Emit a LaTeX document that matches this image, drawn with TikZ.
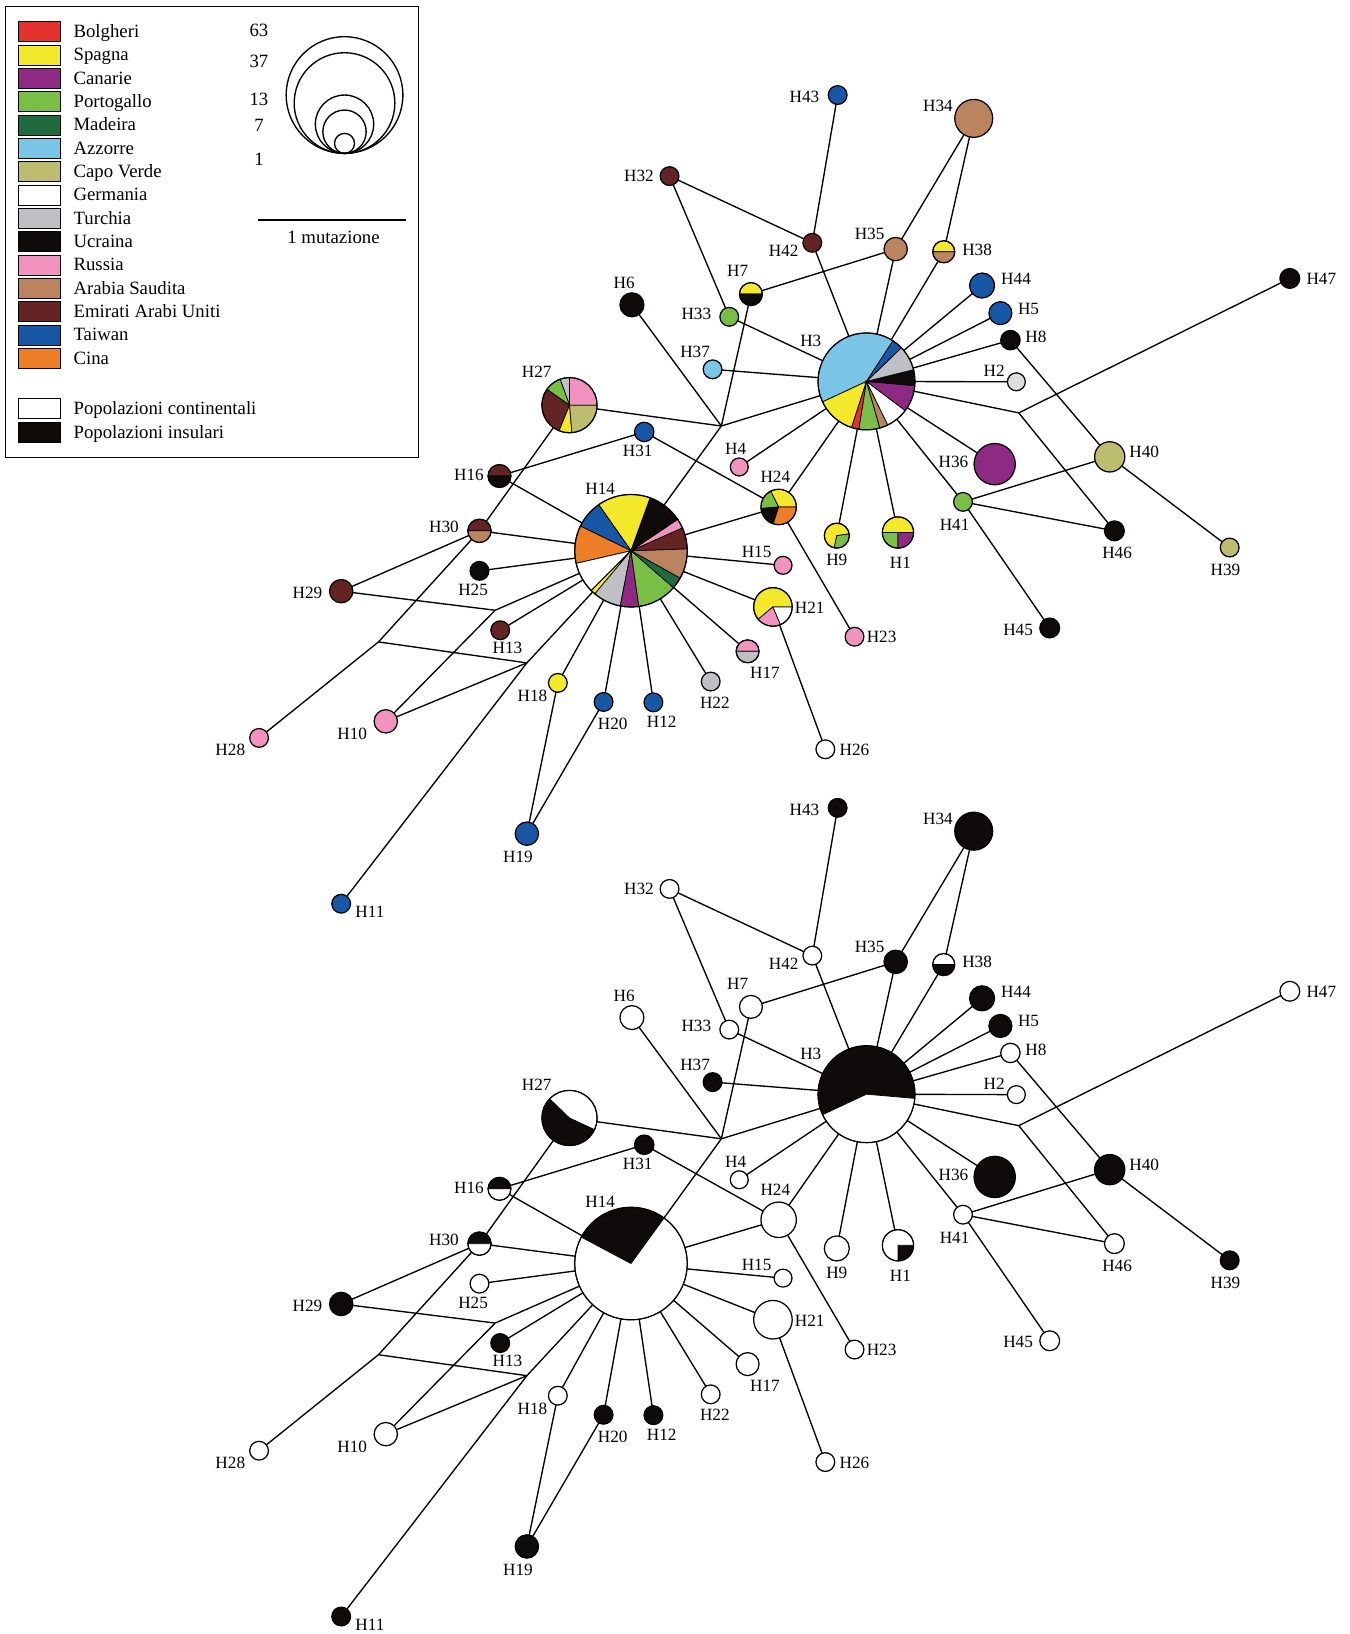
\documentclass[tikz,border=0pt]{standalone}
\usepackage{fontspec}
\setmainfont{Liberation Serif}
\pgfdeclarelayer{back}
\pgfdeclarelayer{bg}
\pgfsetlayers{back,bg,main}
\definecolor{cBol}{HTML}{E5312E}
\definecolor{cSpa}{HTML}{F4E82A}
\definecolor{cCan}{HTML}{8E2A84}
\definecolor{cPor}{HTML}{79BF45}
\definecolor{cMad}{HTML}{1F6B3E}
\definecolor{cAzz}{HTML}{7AC4E6}
\definecolor{cCap}{HTML}{BDBD70}
\definecolor{cTur}{HTML}{BFC0C3}
\definecolor{cUcr}{HTML}{100B0B}
\definecolor{cRus}{HTML}{F192BF}
\definecolor{cAra}{HTML}{BC835F}
\definecolor{cEmi}{HTML}{652424}
\definecolor{cTai}{HTML}{1757A6}
\definecolor{cCin}{HTML}{EE7D28}
\definecolor{cLgr}{HTML}{DEDEDE}
\tikzset{
 hap/.style={circle,draw=black,line width=1.2pt,inner sep=0pt,outer sep=0pt},
 con/.style={line width=1.3pt},
 lab/.style={inner sep=0pt,font=\fontsize{16.5}{18}\selectfont},
 leg/.style={inner sep=0pt,anchor=base west,font=\fontsize{18}{20}\selectfont},
 sw/.style={draw=black,line width=0.8pt,minimum width=40.7pt,minimum height=19.2pt,inner sep=0pt,outer sep=0pt},
}
\newcommand\hn[6]{\node[hap,minimum size={2*#5pt},fill=#6] (#1#2) at (#3,#4) {};}
\newcommand\hp[5]{\node[hap,minimum size={2*#5pt}] (#1#2) at (#3,#4) {};}
\newcommand\pslice[6]{\filldraw[fill=#6,draw=black,line width=0.7pt] (#1,#2) -- ++(#4:#3pt) arc[start angle=#4,end angle=#5,radius=#3pt] -- cycle;}
\newcommand\pie[4]{\foreach \pa/\pb/\pc in {#4}{\pslice{#1}{#2}{#3}{\pa}{\pb}{\pc}}}
\newcommand\netjunc[1]{%
 \coordinate (#1J1) at (692.2,408.8);
 \coordinate (#1J2) at (977.6,396.2);
 \coordinate (#1J3) at (363.2,616);
 \coordinate (#1J4) at (505.6,636.1);
 \coordinate (#1J5) at (475.2,585.6);}
\newcommand\netedges[1]{%
 \begin{pgfonlayer}{bg}
 \foreach \ea/\eb in {H43/H42,H32/H42,H42/H3,H32/H33,H33/H3,H7/H35,H35/H34,H35/H3,H34/H38,H38/H3,
  H7/J1,J1/H14,H6/J1,H27/J1,J1/H3,H37/H3,H44/H3,H5/H3,H8/H3,H8/H40,H2/H3,H3/J2,H47/J2,J2/H46,
  H36/H3,H41/H3,H41/H40,H41/H46,H41/H45,H40/H39,H24/H3,H4/H3,H9/H3,H1/H3,H31/H24,H24/H14,H24/H23,
  H27/H30,H31/H16,H16/H14,H30/H14,H30/H29,H30/J3,J3/H28,J3/J4,J4/H10,H11/J4,J4/H14,H29/J5,J5/H14,
  J5/H10,H25/H14,H13/H14,H18/H14,H18/H19,H20/H19,H20/H14,H12/H14,H22/H14,H17/H14,H15/H14,H21/H14,H21/H26}
  {\draw[con] (#1\ea) -- (#1\eb);}
 \end{pgfonlayer}}
\newcommand\netlabels[1]{%
 \foreach \lx/\ly/\lt in {772/92.8/H43,900/101.8/H34,613.2/169/H32,752/241/H42,834.5/224.6/H35,
  937.6/239.3/H38,707.8/260.2/H7,975/268/H44,599/271.4/H6,668.2/300.8/H33,987/296/H5,1268/268/H47,
  994/323/H8,667/338/H37,778/327/H3,954/356/H2,515/357/H27,612/433/H31,915/443/H36,1098/434/H40,
  706/431/H4,450/456/H16,744/458/H24,916/504/H41,576/469/H14,803/537/H9,864/540/H1,426/506/H30,
  1072/531/H46,1176/547/H39,726/530/H15,454/566/H25,295/569/H29,777/583/H21,487/622/H13,977/604/H45,
  846/611/H23,734/646/H17,686/674/H22,511/668/H18,588/695/H20,635/693/H12,338/704/H10,221/720/H28,
  820/720/H26,497/822/H19,355/875/H11}
  {\node[lab] (#1l\lt) at (\lx,\ly) {\lt};}}
\begin{document}
\begin{tikzpicture}[x=1pt,y=-1pt]
\useasboundingbox (0,0) rectangle (1295,1568);
\begin{pgfonlayer}{back}
\fill[white] (0,0) rectangle (1295,1568);
\end{pgfonlayer}
% ---------------- legend
\node[draw=black,line width=0.9pt,anchor=north west,minimum width=396.7pt,minimum height=432.6pt,inner sep=0pt] (legbox) at (4.8,5.8) {};
\foreach \i/\col/\txt in {0/cBol/Bolgheri,1/cSpa/Spagna,2/cCan/Canarie,3/cPor/Portogallo,4/cMad/Madeira,
 5/cAzz/Azzorre,6/cCap/Capo Verde,7/white/Germania,8/cTur/Turchia,9/cUcr/Ucraina,10/cRus/Russia,
 11/cAra/Arabia Saudita,12/cEmi/Emirati Arabi Uniti,13/cTai/Taiwan,14/cCin/Cina}
{\node[sw,fill=\col] (sw\i) at (38,30.4+22.4*\i) {};
 \node[leg] (lt\i) at (70.4,35.9+22.4*\i) {\txt};}
\node[sw,fill=white] (swc) at (38,392) {};
\node[leg] (ltc) at (70.4,397.5) {Popolazioni continentali};
\node[sw,fill=cUcr] (swi) at (38,415) {};
\node[leg] (lti) at (70.4,420.5) {Popolazioni insulari};
\foreach \v/\yy in {63/28.8,37/58.6,13/95.4,7/120,1/152.6}
 {\node[inner sep=0pt,font=\fontsize{18}{20}\selectfont] (n\v) at (248.5,\yy) {\v};}
\foreach \rr in {56,48.3,28,20.8,9.6}
 {\draw[line width=1.3pt] (330.6,147.2-\rr) circle[radius=\rr pt];}
\coordinate (sb1) at (248,211.2);
\coordinate (sb2) at (389.8,211.2);
\draw[line width=1.3pt] (sb1) -- (sb2);
\node[inner sep=0pt,font=\fontsize{18}{20}\selectfont] (sbl) at (320,227.8) {1 mutazione};
% ---------------- top network
\netjunc{t}
\pie{831.5}{366}{46.5}{57/205/cAzz,205/252/cSpa,252/261/cBol,261/286/cPor,286/296/cAra,296/323/white,323/355/cCan,355/374/cUcr,374/404/cTur,404/417/cTai}
\hp{t}{H3}{831.5}{366}{46.5}
\pie{605.5}{528.5}{54}{70/125/cSpa,125/154/cTai,154/193/cCin,193/225/white,225/230/cSpa,230/259/cTur,259/278/cCan,278/319/cPor,319/331/cMad,331/362/cAra,362/384/cEmi,384/394/cRus,394/430/cUcr}
\hp{t}{H14}{605.5}{528.5}{54}
\pie{546.5}{388.8}{26.5}{0/90/cRus,90/110/cTur,110/145/cPor,145/248/cEmi,248/275/cSpa,275/360/cCap}
\hp{t}{H27}{546.5}{388.8}{26.5}
\pie{747.2}{486.5}{17}{0/117/cSpa,117/185/cPor,185/252/cUcr,252/360/cCin}
\hp{t}{H24}{747.2}{486.5}{17}
\pie{803}{514}{12}{8/258/cSpa,258/368/cPor}
\hp{t}{H9}{803}{514}{12}
\pie{861.7}{511}{15}{0/180/cSpa,180/270/cPor,270/360/cCan}
\hp{t}{H1}{861.7}{511}{15}
\pie{741.7}{582.4}{18.5}{0/220/cSpa,220/293/cRus,293/360/white}
\hp{t}{H21}{741.7}{582.4}{18.5}
\pie{905.6}{241.6}{10.6}{0/180/cSpa,180/360/cAra}
\hp{t}{H38}{905.6}{241.6}{10.6}
\pie{720.6}{282.2}{11}{0/180/cSpa,180/360/cUcr}
\hp{t}{H7}{720.6}{282.2}{11}
\pie{479.3}{456.8}{11}{0/180/cEmi,180/360/cUcr}
\hp{t}{H16}{479.3}{456.8}{11}
\pie{460.1}{509.4}{11.2}{0/180/cEmi,180/360/cAra}
\hp{t}{H30}{460.1}{509.4}{11.2}
\pie{717.4}{625}{11}{0/180/cRus,180/360/cTur}
\hp{t}{H17}{717.4}{625}{11}
\hn{t}{H43}{803.8}{91.2}{9}{cTai}
\hn{t}{H34}{934.4}{113.6}{18.2}{cAra}
\hn{t}{H32}{642.5}{169}{9}{cEmi}
\hn{t}{H42}{779.5}{233}{9}{cEmi}
\hn{t}{H35}{859.5}{239}{11.2}{cAra}
\hn{t}{H44}{942.4}{274}{12}{cTai}
\hn{t}{H6}{606.4}{292.5}{11.5}{cUcr}
\hn{t}{H33}{699.8}{304}{9}{cPor}
\hn{t}{H5}{960}{300.5}{11}{cTai}
\hn{t}{H47}{1237.7}{267.2}{9.5}{cUcr}
\hn{t}{H8}{969.6}{326.4}{9.3}{cUcr}
\hn{t}{H37}{683.8}{354.4}{9}{cAzz}
\hn{t}{H2}{975.3}{366.4}{8.6}{cLgr}
\hn{t}{H31}{618.2}{414.5}{9.3}{cTai}
\hn{t}{H36}{954.5}{445.4}{19.8}{cCan}
\hn{t}{H40}{1064.9}{438.4}{14.5}{cCap}
\hn{t}{H4}{709.4}{448.1}{8.6}{cRus}
\hn{t}{H41}{924.1}{481.6}{9}{cPor}
\hn{t}{H46}{1069.4}{509.4}{9.5}{cUcr}
\hn{t}{H39}{1180}{525.4}{9}{cCap}
\hn{t}{H15}{751.4}{542.5}{8.6}{cRus}
\hn{t}{H25}{460.1}{547.8}{9}{cUcr}
\hn{t}{H29}{327.4}{567.3}{11.2}{cEmi}
\hn{t}{H13}{480}{604.8}{9}{cEmi}
\hn{t}{H45}{1007.3}{602.6}{9.5}{cUcr}
\hn{t}{H23}{820}{611}{9}{cRus}
\hn{t}{H22}{682}{654}{9}{cTur}
\hn{t}{H18}{535.3}{655.3}{9}{cSpa}
\hn{t}{H20}{579.2}{673.6}{9}{cTai}
\hn{t}{H12}{627}{674}{9}{cTai}
\hn{t}{H10}{370.2}{692.2}{11.2}{cRus}
\hn{t}{H28}{248.6}{708.1}{9}{cRus}
\hn{t}{H26}{792}{719}{9}{white}
\hn{t}{H19}{505.6}{800}{11.2}{cTai}
\hn{t}{H11}{327.4}{867.2}{9}{cTai}
\netedges{t}
\netlabels{t}
% ---------------- bottom network
\begin{scope}[yshift=-684pt]
\netjunc{b}
\pie{831.5}{366}{46.5}{-5/205/cUcr,205/355/white}
\hp{b}{H3}{831.5}{366}{46.5}
\pie{605.5}{528.5}{54}{54/152/cUcr,152/414/white}
\hp{b}{H14}{605.5}{528.5}{54}
\pie{546.5}{388.8}{26.5}{136/335/cUcr,335/496/white}
\hp{b}{H27}{546.5}{388.8}{26.5}
\pie{861.7}{511}{15}{-90/0/cUcr,0/270/white}
\hp{b}{H1}{861.7}{511}{15}
\pie{905.6}{241.6}{10.6}{0/180/white,180/360/cUcr}
\hp{b}{H38}{905.6}{241.6}{10.6}
\pie{479.3}{456.8}{11}{0/180/cUcr,180/360/white}
\hp{b}{H16}{479.3}{456.8}{11}
\pie{460.1}{509.4}{11.2}{0/180/cUcr,180/360/white}
\hp{b}{H30}{460.1}{509.4}{11.2}
\hn{b}{H24}{747.2}{486.5}{17}{white}
\hn{b}{H9}{803}{514}{12}{white}
\hn{b}{H21}{741.7}{582.4}{18.5}{white}
\hn{b}{H7}{720.6}{282.2}{11}{white}
\hn{b}{H17}{717.4}{625}{11}{white}
\hn{b}{H43}{803.8}{91.2}{9}{cUcr}
\hn{b}{H34}{934.4}{113.6}{18.2}{cUcr}
\hn{b}{H32}{642.5}{169}{9}{white}
\hn{b}{H42}{779.5}{233}{9}{white}
\hn{b}{H35}{859.5}{239}{11.2}{cUcr}
\hn{b}{H44}{942.4}{274}{12}{cUcr}
\hn{b}{H6}{606.4}{292.5}{11.5}{white}
\hn{b}{H33}{699.8}{304}{9}{white}
\hn{b}{H5}{960}{300.5}{11}{cUcr}
\hn{b}{H47}{1237.7}{267.2}{9.5}{white}
\hn{b}{H8}{969.6}{326.4}{9.3}{white}
\hn{b}{H37}{683.8}{354.4}{9}{cUcr}
\hn{b}{H2}{975.3}{366.4}{8.6}{white}
\hn{b}{H31}{618.2}{414.5}{9.3}{cUcr}
\hn{b}{H36}{954.5}{445.4}{19.8}{cUcr}
\hn{b}{H40}{1064.9}{438.4}{14.5}{cUcr}
\hn{b}{H4}{709.4}{448.1}{8.6}{white}
\hn{b}{H41}{924.1}{481.6}{9}{white}
\hn{b}{H46}{1069.4}{509.4}{9.5}{white}
\hn{b}{H39}{1180}{525.4}{9}{cUcr}
\hn{b}{H15}{751.4}{542.5}{8.6}{white}
\hn{b}{H25}{460.1}{547.8}{9}{white}
\hn{b}{H29}{327.4}{567.3}{11.2}{cUcr}
\hn{b}{H13}{480}{604.8}{9}{cUcr}
\hn{b}{H45}{1007.3}{602.6}{9.5}{white}
\hn{b}{H23}{820}{611}{9}{white}
\hn{b}{H22}{682}{654}{9}{white}
\hn{b}{H18}{535.3}{655.3}{9}{white}
\hn{b}{H20}{579.2}{673.6}{9}{cUcr}
\hn{b}{H12}{627}{674}{9}{cUcr}
\hn{b}{H10}{370.2}{692.2}{11.2}{white}
\hn{b}{H28}{248.6}{708.1}{9}{white}
\hn{b}{H26}{792}{719}{9}{white}
\hn{b}{H19}{505.6}{800}{11.2}{cUcr}
\hn{b}{H11}{327.4}{867.2}{9}{cUcr}
\netedges{b}
\netlabels{b}
\end{scope}
\end{tikzpicture}
\end{document}
